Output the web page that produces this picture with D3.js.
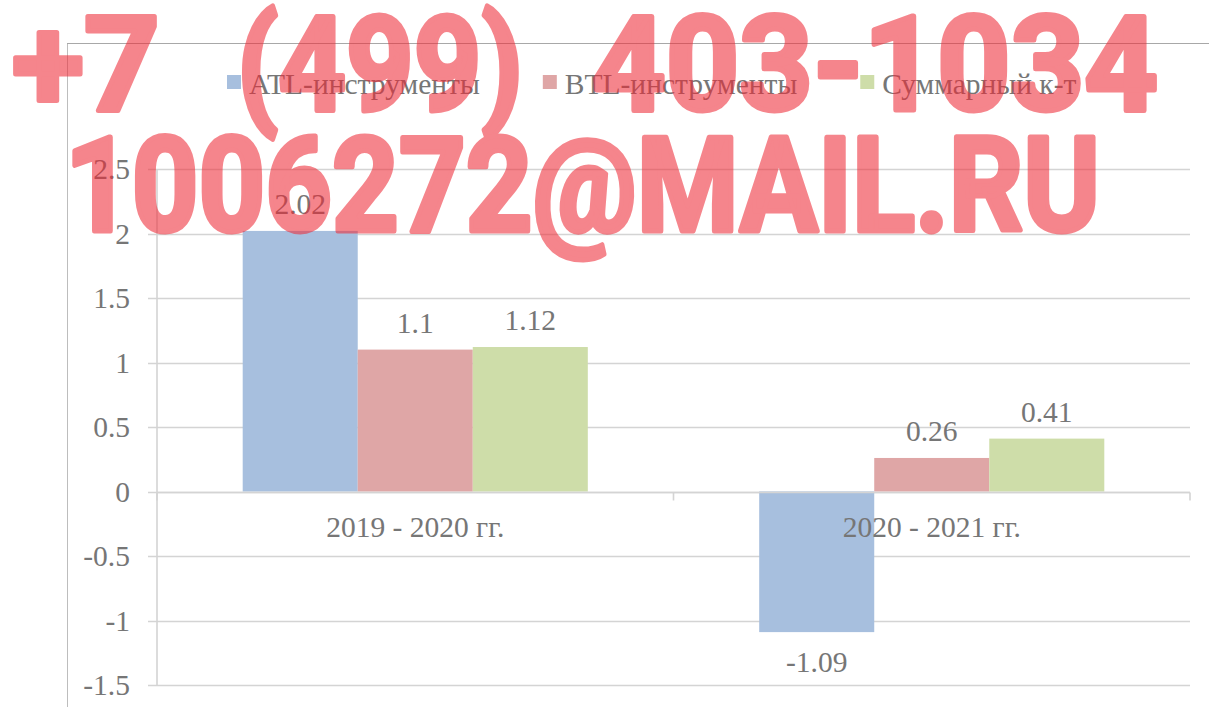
<!DOCTYPE html>
<html><head><meta charset="utf-8">
<script src="https://cdn.jsdelivr.net/npm/d3@7"></script>
<style>html,body{margin:0;padding:0;background:#fff;}svg{display:block;}</style>
</head><body>
<svg id="c" width="1209" height="707"></svg>
<script>
const categories = ["2019 - 2020 гг.", "2020 - 2021 гг."];
const seriesNames = ["ATL-инструменты", "BTL-инструменты", "Суммарный к-т"];
const atlValues = [2.02, -1.09];
const btlValues = [1.1, 0.26];
const totalValues = [1.12, 0.41];
const yTicks = [-1.5, -1, -0.5, 0, 0.5, 1, 1.5, 2, 2.5];
const seriesColors = ["#a7bfde", "#dfa6a6", "#cedda9"];
const watermarkLines = ["+7", "(499)", "403-1034", "1006272@MAIL.RU"];

const seriesValues = [atlValues, btlValues, totalValues];
const svg = d3.select("#c");
const textColor = "#767676";
const serif = "'Liberation Serif','DejaVu Serif',serif";
const fs = 29.5;

// outer chart border
svg.append("line").attr("x1", 67.5).attr("x2", 67.5).attr("y1", 43).attr("y2", 707).attr("stroke", "#bdbdbd").attr("stroke-width", 1);
svg.append("line").attr("x1", 67).attr("x2", 1209).attr("y1", 43.5).attr("y2", 43.5).attr("stroke", "#a8a8a8").attr("stroke-width", 1);

const plotL = 157, plotR = 1190;
const y = d3.scaleLinear().domain([-1.5, 2.5]).range([685, 169]);
const x0 = d3.scaleBand().domain(categories).range([plotL, plotR]).paddingInner(0).paddingOuter(0);
const x1 = d3.scaleBand().domain(seriesNames).range([0, x0.bandwidth()]).paddingInner(0).paddingOuter(0.745);

// gridlines
svg.append("g").selectAll("line").data(yTicks).join("line")
  .attr("x1", plotL - 9).attr("x2", plotR)
  .attr("y1", d => Math.round(y(d)) + 0.5).attr("y2", d => Math.round(y(d)) + 0.5)
  .attr("stroke", "#d4d4d4").attr("stroke-width", 1.6);

// y axis line
svg.append("line").attr("x1", plotL).attr("x2", plotL).attr("y1", y(2.5)).attr("y2", y(-1.5))
  .attr("stroke", "#d4d4d4").attr("stroke-width", 1.6);

// y tick labels
svg.append("g").selectAll("text").data(yTicks).join("text")
  .attr("x", 130).attr("y", d => y(d) + 10)
  .attr("text-anchor", "end").attr("font-family", serif).attr("font-size", fs)
  .attr("fill", textColor).text(d => d);

// bars
const groups = svg.append("g").selectAll("g").data(categories).join("g")
  .attr("transform", d => `translate(${x0(d)},0)`);
groups.selectAll("rect").data((c, ci) => seriesNames.map((s, si) => ({s, si, v: seriesValues[si][ci]}))).join("rect")
  .attr("x", d => x1(d.s)).attr("width", x1.bandwidth())
  .attr("y", d => y(Math.max(0, d.v))).attr("height", d => Math.abs(y(d.v) - y(0)))
  .attr("fill", d => seriesColors[d.si]);

// category axis on zero line
const zeroY = Math.round(y(0)) + 0.5;
svg.append("line").attr("x1", plotL).attr("x2", plotR).attr("y1", zeroY).attr("y2", zeroY)
  .attr("stroke", "#d4d4d4").attr("stroke-width", 1.6);
const tickXs = categories.map(c => x0(c)).concat([plotR]);
svg.append("g").selectAll("line").data(tickXs).join("line")
  .attr("x1", d => d).attr("x2", d => d).attr("y1", zeroY).attr("y2", zeroY + 8)
  .attr("stroke", "#d4d4d4").attr("stroke-width", 1.6);

// category labels
svg.append("g").selectAll("text").data(categories).join("text")
  .attr("x", d => x0(d) + x0.bandwidth() / 2).attr("y", 537)
  .attr("text-anchor", "middle").attr("font-family", serif).attr("font-size", fs)
  .attr("fill", textColor).text(d => d);

// data labels
groups.selectAll("text").data((c, ci) => seriesNames.map((s, si) => ({s, si, v: seriesValues[si][ci]}))).join("text")
  .attr("x", d => x1(d.s) + x1.bandwidth() / 2)
  .attr("y", d => d.v >= 0 ? y(d.v) - 17 : y(d.v) + 40)
  .attr("text-anchor", "middle").attr("font-family", serif).attr("font-size", fs)
  .attr("fill", textColor).text(d => d.v);

// legend
const legend = svg.append("g");
let lx = 227;
seriesNames.forEach((name, i) => {
  legend.append("rect").attr("x", lx).attr("y", 75).attr("width", 14).attr("height", 14).attr("fill", seriesColors[i]);
  const t = legend.append("text").attr("x", lx + 22).attr("y", 94)
    .attr("font-family", serif).attr("font-size", fs).attr("fill", textColor).text(name);
  const w = t.node().getComputedTextLength();
  lx = lx + 22 + w + 63;
});

// watermark
const wm = svg.append("g").attr("opacity", 0.57);
const wmPos = [[12, 110, 148], [237, 110, 286], [592, 110, 566], [65, 231, 1035]];
watermarkLines.forEach((txt, i) => {
  wm.append("text").attr("x", wmPos[i][0]).attr("y", wmPos[i][1])
    .attr("font-family", "Roboto, 'Open Sans', sans-serif").attr("font-weight", 700)
    .attr("font-size", 132).attr("fill", "#ef2a36")
    .attr("stroke", "#ef2a36").attr("stroke-width", 5).attr("stroke-linejoin", "round")
    .attr("textLength", wmPos[i][2]).attr("lengthAdjust", "spacingAndGlyphs")
    .text(txt);
});
</script>
</body></html>
